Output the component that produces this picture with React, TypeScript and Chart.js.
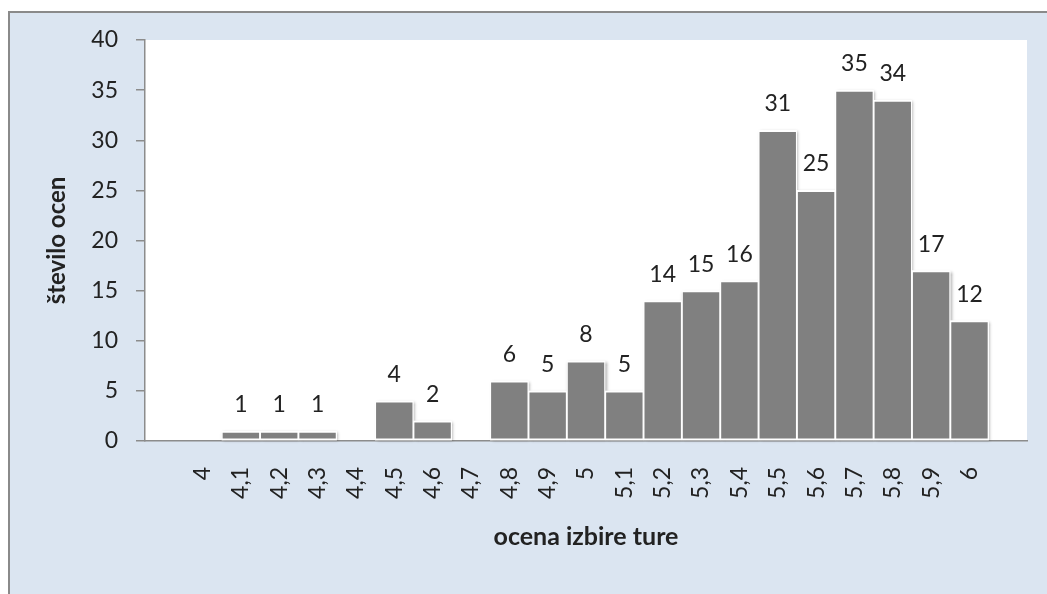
import React, { useEffect, useRef } from "react";
import { Chart, registerables } from "chart.js";

Chart.register(...registerables);

const categories = ["4", "4,1", "4,2", "4,3", "4,4", "4,5", "4,6", "4,7", "4,8", "4,9", "5", "5,1", "5,2", "5,3", "5,4", "5,5", "5,6", "5,7", "5,8", "5,9", "6"];
const counts = [0, 1, 1, 1, 0, 4, 2, 0, 6, 5, 8, 5, 14, 15, 16, 31, 25, 35, 34, 17, 12];
const yTitle = "število ocen";
const xTitle = "ocena izbire ture";

const FONT = "Lato";
const TEXT = "#222222";
const AXIS = "#8c8c8c";

const plotBg = {
  id: "plotBg",
  beforeDraw(chart: any) {
    const { ctx, chartArea } = chart;
    ctx.save();
    ctx.fillStyle = "#ffffff";
    ctx.fillRect(chartArea.left, chartArea.top, chartArea.right - chartArea.left, chartArea.bottom - chartArea.top);
    ctx.restore();
  },
};

const barShadow = {
  id: "barShadow",
  beforeDatasetsDraw(chart: any) {
    const { ctx } = chart;
    const meta = chart.getDatasetMeta(0);
    ctx.save();
    ctx.shadowColor = "rgba(0,0,0,0.35)";
    ctx.shadowBlur = 3;
    ctx.shadowOffsetX = 1.5;
    ctx.shadowOffsetY = 1;
    ctx.fillStyle = "rgba(255,255,255,1)";
    meta.data.forEach((el: any, i: number) => {
      if (!counts[i]) return;
      const { x, y, base, width } = el.getProps(["x", "y", "base", "width"], true);
      ctx.fillRect(x - width / 2, y, width, base - y);
    });
    ctx.restore();
  },
};

const valueLabels = {
  id: "valueLabels",
  afterDatasetsDraw(chart: any) {
    const { ctx } = chart;
    const meta = chart.getDatasetMeta(0);
    ctx.save();
    ctx.font = `23px ${FONT}`;
    ctx.fillStyle = TEXT;
    ctx.textAlign = "center";
    ctx.textBaseline = "alphabetic";
    meta.data.forEach((el: any, i: number) => {
      const v = counts[i];
      if (!v) return;
      const { x, y } = el.getProps(["x", "y"], true);
      ctx.fillText(String(v), x, y - 19);
    });
    ctx.restore();
  },
};

export default function App() {
  const ref = useRef<HTMLCanvasElement>(null);

  useEffect(() => {
    if (!ref.current) return;
    const chart = new Chart(ref.current, {
      type: "bar",
      data: {
        datasets: [
          {
            data: counts.map((v, i) => ({ x: i, y: v })),
            backgroundColor: "#808080",
            borderColor: "#ffffff",
            borderWidth: { top: 2, bottom: 2, left: 1.3, right: 1.3 },
            borderSkipped: false,
            barPercentage: 1,
            categoryPercentage: 1,
          },
        ],
      },
      options: {
        responsive: false,
        animation: false,
        events: [],
        layout: { padding: { left: 0, top: 40, right: 20, bottom: 0 } },
        plugins: { legend: { display: false }, tooltip: { enabled: false } },
        scales: {
          x: {
            type: "linear",
            min: -1.5,
            max: 21.5,
            offset: false,
            afterFit(scale: any) {
              scale.height = 153;
            },
            afterBuildTicks(scale: any) {
              scale.ticks = categories.map((_, i) => ({ value: i }));
            },
            grid: { display: true, drawOnChartArea: false, drawTicks: false, offset: false, color: AXIS },
            border: { display: true, color: AXIS, width: 1.5 },
            ticks: {
              autoSkip: false,
              minRotation: 90,
              maxRotation: 90,
              padding: 26,
              color: TEXT,
              font: { family: FONT, size: 23 },
              callback: (v: any) => categories[Math.round(Number(v))] ?? "",
            },
            title: {
              display: true,
              text: xTitle,
              color: TEXT,
              font: { family: FONT, size: 25, weight: "bold" },
              padding: { top: 0, bottom: 42 },
            },
          },
          y: {
            min: 0,
            max: 40,
            afterFit(scale: any) {
              scale.width = 145;
            },
            grid: { display: true, drawOnChartArea: false, drawTicks: true, tickLength: 9, color: AXIS, lineWidth: 1.5 },
            border: { display: true, color: AXIS, width: 1.5 },
            ticks: {
              stepSize: 5,
              padding: 18,
              color: TEXT,
              font: { family: FONT, size: 23 },
            },
            title: {
              display: true,
              text: yTitle,
              color: TEXT,
              font: { family: FONT, size: 24, weight: "bold" },
              padding: { top: 43, bottom: 0 },
            },
          },
        },
      },
      plugins: [plotBg, barShadow, valueLabels],
    });
    return () => chart.destroy();
  }, []);

  return (
    <div style={{ position: "absolute", left: 0, top: 0, width: 1047, height: 594, overflow: "hidden" }}>
      <div
        style={{
          position: "absolute",
          left: 8,
          top: 11,
          width: 1039,
          height: 583,
          boxSizing: "border-box",
          background: "#dbe5f1",
          borderTop: "2px solid #8a8a8a",
          borderLeft: "2px solid #8a8a8a",
        }}
      />
      <canvas ref={ref} width={1047} height={594} style={{ position: "absolute", left: 0, top: 0 }} />
    </div>
  );
}
